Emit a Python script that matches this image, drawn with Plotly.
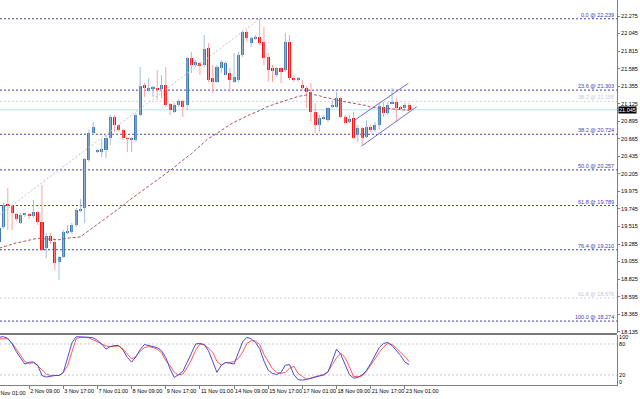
import plotly.graph_objects as go

# ---------------- data ----------------
bars = list(range(1, 98))
opens = [19.311, 19.508, 19.810, 19.783, 19.679, 19.561, 19.666, 19.679, 19.652, 19.705,
         19.574, 19.233, 19.390, 19.311, 19.049, 19.115, 19.430, 19.443, 19.534, 19.718,
         19.757, 20.387, 20.741, 20.492, 20.492, 20.518, 20.675, 20.951, 20.846, 20.780,
         20.675, 20.649, 20.649, 20.977, 21.370, 21.292, 21.318, 21.331, 21.318, 21.370,
         21.121, 21.016, 21.108, 21.160, 21.108, 21.724, 21.632, 21.659, 21.632, 21.855,
         21.462, 21.410, 21.593, 21.501, 21.528, 21.410, 21.436, 21.764, 22.065, 21.921,
         21.986, 21.999, 21.934, 21.737, 21.593, 21.501, 21.593, 21.567, 21.934, 21.462,
         21.436, 21.370, 21.331, 21.278, 21.016, 20.846, 20.924, 20.911, 21.082, 21.082,
         21.200, 20.951, 20.885, 20.938, 20.715, 20.806, 20.688, 20.819, 20.780, 20.846,
         21.082, 21.003, 21.134, 21.147, 21.082, 21.069, 21.108]
closes = [19.495, 19.797, 19.783, 19.692, 19.613, 19.666, 19.679, 19.652, 19.705, 19.574,
          19.207, 19.390, 19.325, 19.036, 19.115, 19.443, 19.456, 19.534, 19.731, 19.744,
          20.400, 20.741, 20.819, 20.518, 20.531, 20.675, 20.951, 20.846, 20.780, 20.675,
          20.662, 20.675, 20.977, 21.357, 21.331, 21.331, 21.344, 21.305, 21.370, 21.108,
          21.042, 21.108, 21.160, 21.082, 21.724, 21.632, 21.672, 21.619, 21.842, 21.436,
          21.410, 21.606, 21.672, 21.659, 21.436, 21.475, 21.764, 22.065, 21.986, 21.986,
          21.999, 21.921, 21.724, 21.567, 21.554, 21.593, 21.541, 21.934, 21.462, 21.436,
          21.462, 21.331, 21.278, 21.016, 20.846, 20.938, 20.951, 21.069, 21.108, 21.200,
          20.951, 20.872, 20.924, 20.675, 20.806, 20.675, 20.819, 20.793, 20.846, 21.095,
          21.003, 21.108, 21.147, 21.069, 21.056, 21.108, 21.045]
highs = [19.521, 19.823, 20.020, 19.797, 19.692, 19.692, 19.692, 19.692, 19.862, 19.718,
         20.059, 19.430, 19.430, 19.338, 19.128, 19.469, 19.534, 19.561, 19.757, 19.875,
         20.413, 20.780, 20.885, 20.531, 20.662, 20.715, 20.977, 20.977, 20.859, 20.793,
         20.688, 20.688, 21.003, 21.606, 21.396, 21.462, 21.357, 21.567, 21.501, 21.606,
         21.134, 21.134, 21.187, 21.174, 21.737, 21.803, 21.698, 21.672, 22.026, 21.921,
         21.632, 21.632, 21.698, 21.672, 21.593, 21.790, 21.803, 22.091, 22.091, 21.999,
         22.026, 22.239, 22.131, 21.790, 21.632, 21.606, 21.606, 22.052, 22.026, 21.501,
         21.475, 21.436, 21.357, 21.396, 21.134, 20.977, 20.977, 21.082, 21.174, 21.278,
         21.213, 20.977, 20.977, 21.016, 20.846, 20.819, 20.911, 20.846, 20.885, 21.134,
         21.147, 21.147, 21.331, 21.200, 21.095, 21.134, 21.134]
lows = [19.272, 19.482, 19.469, 19.469, 19.587, 19.548, 19.639, 19.613, 19.626, 19.534,
        19.200, 19.102, 19.285, 18.944, 18.813, 19.102, 19.416, 19.416, 19.508, 19.705,
        19.561, 20.360, 20.715, 20.479, 20.426, 20.413, 20.583, 20.754, 20.754, 20.649,
        20.492, 20.492, 20.623, 20.964, 21.213, 21.278, 21.213, 21.174, 21.200, 21.082,
        20.977, 21.003, 21.082, 20.951, 21.042, 21.528, 21.606, 21.501, 21.606, 21.410,
        21.265, 21.396, 21.528, 21.501, 21.278, 21.396, 21.410, 21.737, 21.934, 21.868,
        21.960, 21.895, 21.632, 21.410, 21.410, 21.475, 21.396, 21.541, 21.436, 21.410,
        21.410, 21.305, 21.069, 20.885, 20.741, 20.754, 20.911, 20.885, 21.069, 21.069,
        20.938, 20.846, 20.872, 20.662, 20.623, 20.583, 20.675, 20.754, 20.754, 20.780,
        20.951, 20.977, 21.121, 20.885, 21.042, 21.042, 21.016]
ma_vals = [19.23, 19.25, 19.26, 19.28, 19.30, 19.31, 19.32, 19.34, 19.35, 19.36,
           19.36, 19.35, 19.35, 19.34, 19.34, 19.35, 19.36, 19.37, 19.37, 19.38,
           19.42, 19.46, 19.50, 19.54, 19.58, 19.63, 19.67, 19.71, 19.75, 19.79,
           19.84, 19.88, 19.92, 19.96, 20.00, 20.04, 20.08, 20.12, 20.17, 20.21,
           20.25, 20.29, 20.34, 20.38, 20.43, 20.47, 20.52, 20.57, 20.62, 20.67,
           20.70, 20.74, 20.77, 20.81, 20.85, 20.88, 20.91, 20.93, 20.96, 20.99,
           21.01, 21.04, 21.06, 21.09, 21.11, 21.13, 21.15, 21.17, 21.19, 21.21,
           21.22, 21.23, 21.24, 21.25, 21.24, 21.23, 21.21, 21.20, 21.19, 21.17,
           21.16, 21.15, 21.14, 21.13, 21.12, 21.11, 21.10, 21.08, 21.07, 21.07,
           21.06, 21.06, 21.06, 21.05, 21.05, 21.04, 21.04]

stoch_bars = list(range(0, 98))
stoch_k = [92, 93, 94, 91, 80, 65, 53, 41, 45, 45, 39, 19, 16, 18, 19, 19, 25, 53, 82, 94,
           94, 93, 93, 92, 87, 80, 70, 75, 77, 77, 68, 54, 45, 55, 69, 79, 77, 75, 73, 67,
           54, 32, 15, 21, 27, 44, 62, 80, 81, 79, 67, 47, 25, 39, 44, 43, 41, 63, 84, 93,
           90, 83, 71, 47, 29, 23, 21, 25, 39, 40, 21, 11, 10, 11.5, 14, 17, 18, 20, 26, 47,
           70, 60, 41, 21, 14, 15, 20, 29, 42, 57, 73, 81, 83, 77, 68, 58, 45, 40]
stoch_d = [90, 90, 90, 90, 82, 70, 58, 46, 42, 44, 38, 30, 22, 19, 19, 19, 25, 38, 64, 90,
           93, 93, 92, 88, 84, 80, 76, 75, 76, 76, 70, 60, 51, 56, 66, 73, 75, 73, 70, 63,
           48, 38, 25, 20, 22, 34, 49, 68, 80, 78, 72, 64, 46, 39, 44, 44, 46, 52, 64, 81,
           86, 86, 79, 60, 46, 32, 25, 23, 25, 33, 37, 23, 17, 12, 14, 17, 19, 21, 26, 40,
           53, 62, 54, 36, 17, 17, 18, 27, 38, 51, 64, 74, 81, 79, 72, 64, 56, 46]

time_label_bars = [0, 8, 16, 24, 32, 40, 48, 56, 64, 72, 80, 88, 96]
time_labels = ["1 Nov 01:00", "2 Nov 09:00", "3 Nov 17:00", "7 Nov 01:00", "8 Nov 09:00",
               "9 Nov 17:00", "11 Nov 01:00", "14 Nov 09:00", "15 Nov 17:00", "17 Nov 01:00",
               "18 Nov 09:00", "21 Nov 17:00", "23 Nov 01:00"]
price_ticks = [22.275, 22.045, 21.815, 21.585, 21.355, 21.125, 20.895, 20.665, 20.435, 20.205,
               19.975, 19.745, 19.515, 19.285, 19.055, 18.825, 18.595, 18.365, 18.135]
stoch_tick_vals = [94, 80, 20, 7]
stoch_tick_text = ["100", "80", "20", "0"]
stoch_levels = [80, 20]

fib_pct = ["0.0", "23.6", "38.2", "50.0", "61.8", "76.4", "100.0"]
fib_price = [22.239, 21.303, 20.724, 20.257, 19.789, 19.210, 18.274]
faint_fib_pct = ["38.2", "61.8"]
faint_fib_price = [21.155, 18.576]
last_price = 21.045

fib_trend_bars = [-32, 62]
fib_trend_prices = [18.274, 22.239]
chan_upper_bars = [84.3, 96.8]
chan_upper_prices = [20.911, 21.392]
chan_lower_bars = [85.9, 98.8]
chan_lower_prices = [20.570, 21.086]

# ---------------- style ----------------
UP_BODY = "#3f7ab5"
UP_WICK = "#a3bcd8"
DN_BODY = "#ff1010"
DN_WICK = "#ffa0a0"
FIB_COL = "#4040b8"
FONT = "Liberation Sans"

fig = go.Figure()

# wicks
for up in (True, False):
    wx, wy = [], []
    for b, o, c, h, l in zip(bars, opens, closes, highs, lows):
        if (c >= o) == up:
            wx += [b, b, None]
            wy += [l, h, None]
    fig.add_trace(go.Scatter(x=wx, y=wy, mode="lines", xaxis="x", yaxis="y",
                             line=dict(color=UP_WICK if up else DN_WICK, width=1),
                             hoverinfo="skip", showlegend=False))

# faint fib trend line
fig.add_trace(go.Scatter(x=fib_trend_bars, y=fib_trend_prices, mode="lines",
                         line=dict(color="#c4c4c4", width=1, dash="2px,2px"),
                         hoverinfo="skip", showlegend=False))

# moving average
fig.add_trace(go.Scatter(x=bars, y=ma_vals, mode="lines",
                         line=dict(color="#a8555a", width=1, dash="3px,2px"),
                         hoverinfo="skip", showlegend=False))

# bodies
for up in (True, False):
    bx, bb, bh = [], [], []
    for b, o, c in zip(bars, opens, closes):
        if (c >= o) == up:
            bx.append(b)
            bb.append(min(o, c))
            bh.append(max(abs(c - o), 0.012))
    fig.add_trace(go.Bar(x=bx, y=bh, base=bb, width=0.72, xaxis="x", yaxis="y",
                         marker=dict(color=UP_BODY if up else DN_BODY, line=dict(width=0)),
                         hoverinfo="skip", showlegend=False))

# channel lines
for cx, cy in ((chan_upper_bars, chan_upper_prices), (chan_lower_bars, chan_lower_prices)):
    fig.add_trace(go.Scatter(x=cx, y=cy, mode="lines",
                             line=dict(color="#6e6ed8", width=1),
                             hoverinfo="skip", showlegend=False))

# stochastic
fig.add_trace(go.Scatter(x=stoch_bars, y=stoch_d, mode="lines", xaxis="x", yaxis="y2",
                         line=dict(color="#ff5a5a", width=1), hoverinfo="skip", showlegend=False))
fig.add_trace(go.Scatter(x=stoch_bars, y=stoch_k, mode="lines", xaxis="x", yaxis="y2",
                         line=dict(color="#4b4bd8", width=1), hoverinfo="skip", showlegend=False))

shapes = []
annotations = []
for p, v in zip(fib_pct, fib_price):
    shapes.append(dict(type="line", xref="paper", x0=0, x1=1, yref="y", y0=v, y1=v,
                       line=dict(color=FIB_COL, width=1, dash="2px,2px"), layer="below"))
    annotations.append(dict(xref="paper", x=1, xanchor="right", xshift=-1, yref="y", y=v,
                            yanchor="bottom", yshift=-1, showarrow=False,
                            text=f"{p} @ {v:.3f}", font=dict(size=5.5, color=FIB_COL, family=FONT)))
for p, v in zip(faint_fib_pct, faint_fib_price):
    shapes.append(dict(type="line", xref="paper", x0=0, x1=1, yref="y", y0=v, y1=v,
                       line=dict(color="#d2d2e6", width=1, dash="2px,2px"), layer="below"))
    annotations.append(dict(xref="paper", x=1, xanchor="right", xshift=-1, yref="y", y=v,
                            yanchor="bottom", yshift=-1, showarrow=False,
                            text=f"{p} @ {v:.3f}", font=dict(size=5.5, color="#c8c8dc", family=FONT)))
# current price line
shapes.append(dict(type="line", xref="paper", x0=0, x1=1, yref="y", y0=last_price, y1=last_price,
                   line=dict(color="#b2e4ee", width=1), layer="below"))
annotations.append(dict(xref="paper", x=1, xanchor="left", xshift=1, yref="y", y=last_price,
                        showarrow=False, text=f"{last_price:.3f}", bgcolor="#000000", borderpad=0,
                        font=dict(size=5.5, color="#ffffff", family=FONT)))
# stochastic levels
for lv in stoch_levels:
    shapes.append(dict(type="line", xref="paper", x0=0, x1=1, yref="y2", y0=lv, y1=lv,
                       line=dict(color="#c8c8c8", width=1, dash="2px,2px"), layer="below"))
# panel separator
shapes.append(dict(type="line", xref="paper", x0=0, x1=1, yref="paper", y0=0.1325, y1=0.1325,
                   line=dict(color="#7a7a7a", width=2)))
# first time label (its tick falls left of the visible area)
annotations.append(dict(xref="paper", x=0, xanchor="left", xshift=-6, yref="paper", y=0,
                        yanchor="top", yshift=-3, showarrow=False, text=time_labels[0],
                        font=dict(size=5.5, color="#000000", family=FONT)))

fig.update_layout(
    width=640, height=399,
    margin=dict(l=0, r=23, t=0, b=14, autoexpand=False),
    paper_bgcolor="#ffffff", plot_bgcolor="#ffffff",
    barmode="overlay", bargap=0,
    showlegend=False,
    font=dict(family=FONT, size=5.5, color="#000000"),
    xaxis=dict(domain=[0, 1], range=[1.17, 145.7], anchor="y2", showgrid=False, zeroline=False,
               tickvals=time_label_bars[1:], ticktext=time_labels[1:], ticks="outside",
               ticklen=3, tickcolor="#808080", ticklabelposition="outside right", tickangle=0,
               tickfont=dict(size=5.5, family=FONT), showline=True, linecolor="#808080",
               linewidth=1, rangeslider=dict(visible=False), fixedrange=True, automargin=False),
    yaxis=dict(domain=[0.1351, 1], range=[18.118, 22.485], side="right", anchor="x",
               showgrid=False, zeroline=False, tickvals=price_ticks,
               ticktext=[f"{v:.3f}" for v in price_ticks], ticks="outside", ticklen=2,
               tickcolor="#808080", tickfont=dict(size=5.5, family=FONT), automargin=False,
               showline=True, linecolor="#808080", linewidth=1),
    yaxis2=dict(domain=[0, 0.1299], range=[0.65, 97.4], side="right", anchor="x",
                showgrid=False, zeroline=False, tickvals=stoch_tick_vals, automargin=False,
                ticktext=stoch_tick_text, ticks="", tickfont=dict(size=5.5, family=FONT),
                showline=True, linecolor="#808080", linewidth=1),
    shapes=shapes,
    annotations=annotations,
)

fig.write_html("out.html", config={"displayModeBar": False},
               post_script="document.body.style.margin='0';")
